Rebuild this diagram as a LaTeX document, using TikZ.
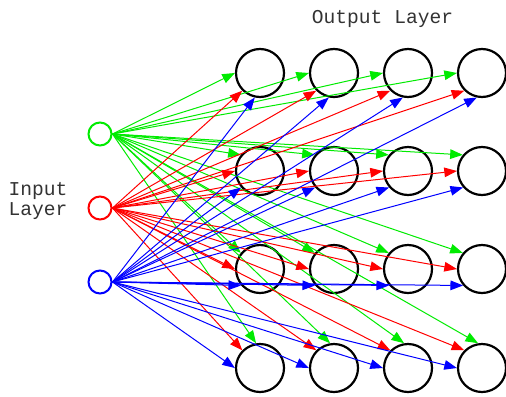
\documentclass[tikz,border=0pt]{standalone}
\usepackage{fontspec}
\setmonofont{Liberation Mono}
\usetikzlibrary{arrows.meta}
\definecolor{lgreen}{RGB}{0,235,0}
\definecolor{lred}{RGB}{255,0,0}
\definecolor{lblue}{RGB}{0,0,255}
\begin{document}
\begin{tikzpicture}[x=0.5pt,y=-0.5pt,
  inp/.style={circle,draw,line width=1pt,minimum size=11.5pt,inner sep=0pt},
  outp/.style={circle,draw=black,line width=1.1pt,minimum size=24pt,inner sep=0pt},
  conn/.style={line width=0.5pt,-{Triangle[length=6.3pt,width=4.8pt]}},
  lbl/.style={font=\fontsize{9.8}{9.6}\selectfont\ttfamily,text=black!80,inner sep=0pt}]
\useasboundingbox (0,0) rectangle (506,396);
\node[inp,draw=lgreen] (i1) at (100,134) {};
\node[inp,draw=lred] (i2) at (100,208) {};
\node[inp,draw=lblue] (i3) at (100,282) {};
\foreach \r/\y in {1/73,2/171,3/269,4/368}
  \foreach \c/\x in {1/260,2/334,3/408,4/482}
    \node[outp] (o\r\c) at (\x,\y) {};
\foreach \r/\ga in {1/180,2/140,3/140,4/99}
  \foreach \c in {1,...,4}
    \draw[conn,lgreen] (i1.east) -- (o\r\c.\ga);
\foreach \r/\ra in {1/225,2/180,3/180,4/135}
  \foreach \c in {1,...,4}
    \draw[conn,lred] (i2.east) -- (o\r\c.\ra);
\foreach \r/\ba in {1/258,2/221,3/221,4/180}
  \foreach \c in {1,...,4}
    \draw[conn,lblue] (i3.east) -- (o\r\c.\ba);
\node[lbl] (outlbl) at (382.5,19) {Output Layer};
\node[lbl,align=center] (inlbl) at (38,201) {Input\\Layer};
\end{tikzpicture}
\end{document}
